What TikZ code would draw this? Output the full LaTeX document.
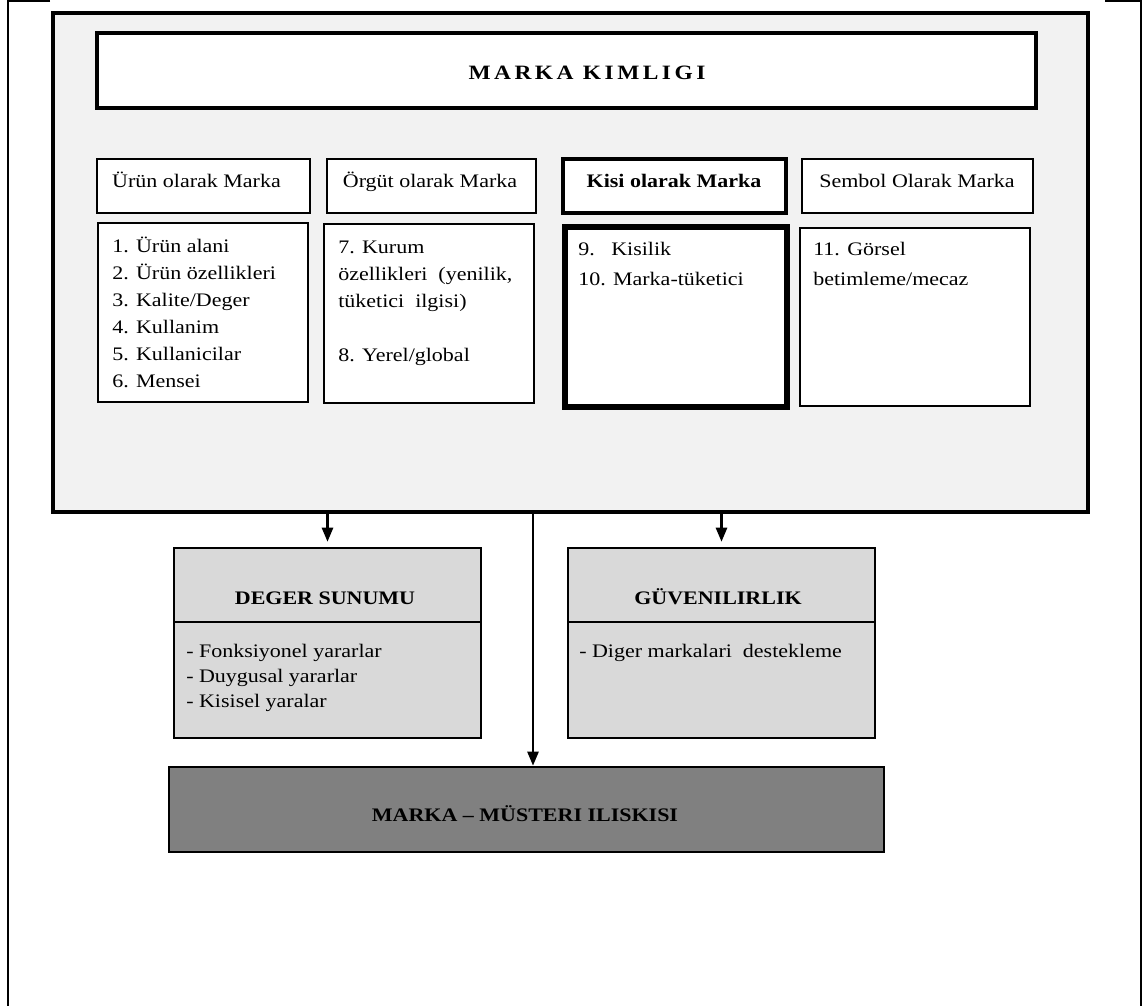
\documentclass[tikz,border=0pt]{standalone}
\usepackage{fontspec}
\setmainfont{Liberation Serif}[FakeStretch=1.15]
\usetikzlibrary{arrows.meta, positioning, fit}
\definecolor{identgrey}{HTML}{F2F2F2}
\definecolor{valuegrey}{HTML}{D9D9D9}
\definecolor{bondgrey}{HTML}{808080}

\begin{document}
\begin{tikzpicture}[x=0.025cm, y=-0.025cm]
\tikzset{
  panel/.style={draw, line width=2pt, fill=white, inner sep=0pt},
  headtext/.style={anchor=base, inner sep=0pt, font=\fontsize{13.6}{15}\selectfont},
  listtext/.style={anchor=north west, inner sep=0pt, align=left, font=\fontsize{13.6}{19.2}\selectfont},
  downarrow/.style={line width=1.5pt, -{Triangle[length=10pt,width=8pt]}}
}
\useasboundingbox (0,0) rectangle (1148,1006);

\draw[line width=1pt] (50,1) -- (8,1) -- (8,1006);
\draw[line width=1pt] (1105,1) -- (1141,1) -- (1141,1006);

\node[panel, fill=identgrey, line width=2.6pt, fit={(53,13) (1088,512)}] (kimlik) {};
\node[panel, line width=2.6pt, fit={(97,33) (1036,108)}] (title) {};
\node[headtext, font=\fontsize{14.5}{16}\selectfont\bfseries\addfontfeature{LetterSpace=17}] (titletext) at (587,79) {MARKA KIMLIGI};

\node[panel, fit={(97,159) (310,213)}] (urun) {};
\node[panel, fit={(327,159) (536,213)}] (orgut) {};
\node[panel, line width=3.4pt, fit={(563,159) (786,213)}] (kisi) {};
\node[panel, fit={(802,159) (1033,213)}] (sembol) {};
\node[headtext] (uruntext) at (196.5,187) {Ürün olarak Marka};
\node[headtext] (orguttext) at (430,187) {Örgüt olarak Marka};
\node[headtext, font=\fontsize{13.6}{15}\selectfont\bfseries] (kisitext) at (674,187) {Kisi olarak Marka};
\node[headtext] (semboltext) at (917,187) {Sembol Olarak Marka};

\node[panel, fit={(98,223) (308,402)}] (urunlist) {};
\node[panel, fit={(324,224) (534,403)}] (orgutlist) {};
\node[panel, line width=4.6pt, fit={(565,227) (787,407)}] (kisilist) {};
\node[panel, fit={(800,228) (1030,406)}] (sembollist) {};
\node[listtext] (uruns) at (112,233) {\strut 1. Ürün alani\\ 2. Ürün özellikleri\\ 3. Kalite/Deger\\ 4. Kullanim\\ 5. Kullanicilar\\ 6. Mensei};
\node[listtext] (orguts) at (338,234) {\strut 7. Kurum\\ özellikleri\ \ (yenilik,\\ tüketici\ \ ilgisi)\\ ~\\ 8. Yerel/global};
\node[listtext, font=\fontsize{13.6}{21.3}\selectfont] (kisis) at (578,234) {\strut 9.\phantom{0} Kisilik\\ 10. Marka-tüketici};
\node[listtext, font=\fontsize{13.6}{21.3}\selectfont] (sembols) at (813,234) {\strut 11. Görsel\\ betimleme/mecaz};

\node[panel, fill=valuegrey, fit={(174,548) (481,622)}] (degerhead) {};
\node[panel, fill=valuegrey, fit={(174,622) (481,738)}] (degerbody) {};
\node[panel, fill=valuegrey, fit={(568,548) (875,622)}] (guvenhead) {};
\node[panel, fill=valuegrey, fit={(568,622) (875,738)}] (guvenbody) {};
\node[headtext, font=\fontsize{13.6}{15}\selectfont\bfseries] (degertext) at (325,604) {DEGER SUNUMU};
\node[headtext, font=\fontsize{13.6}{15}\selectfont\bfseries] (guventext) at (718,604) {GÜVENILIRLIK};
\node[listtext, font=\fontsize{13.6}{17.8}\selectfont] (degers) at (186,640) {\strut - Fonksiyonel yararlar\\ - Duygusal yararlar\\ - Kisisel yaralar};
\node[listtext, font=\fontsize{13.6}{17.8}\selectfont] (guvens) at (579,640) {\strut - Diger markalari\ \ destekleme};

\node[panel, fill=bondgrey, fit={(169,767) (884,852)}] (iliski) {};
\node[headtext, font=\fontsize{13.6}{15}\selectfont\bfseries] (iliskitext) at (525,821) {MARKA – MÜSTERI ILISKISI};

\coordinate (join) at (533,512);
\draw[downarrow, shorten >=3.5pt] (kimlik.south -| degerhead.north) -- (degerhead.north);
\draw[downarrow, shorten >=3.5pt] (kimlik.south -| guvenhead.north) -- (guvenhead.north);
\draw[downarrow] (kimlik.south -| join) -- (join |- iliski.north);
\end{tikzpicture}
\end{document}
